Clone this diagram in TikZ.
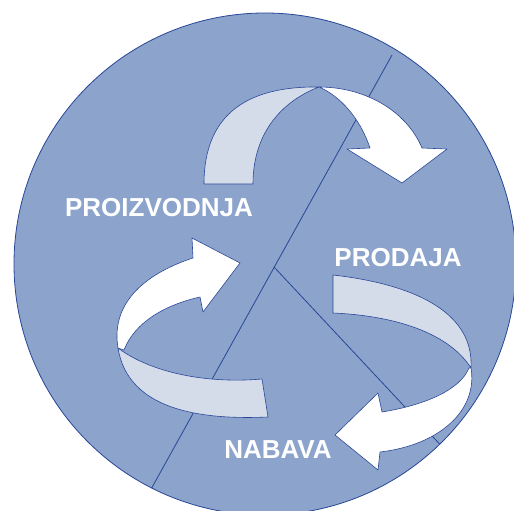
\documentclass[tikz,border=0pt]{standalone}
\usepackage{fontspec}
\setmainfont{Liberation Sans}
\definecolor{discfill}{RGB}{140,163,204}
\definecolor{ribbonback}{RGB}{212,220,234}
\definecolor{edgeblue}{RGB}{40,70,150}
\tikzset{
  edgeline/.style={draw=edgeblue, line width=0.8pt},
  backribbon/.style={fill=ribbonback, draw=edgeblue, line width=0.6pt, line join=round},
  frontribbon/.style={fill=white, draw=edgeblue, line width=0.6pt, line join=round},
  label/.style={text=white, font=\bfseries\fontsize{26}{31}\selectfont, inner sep=0pt},
}
\begin{document}
\begin{tikzpicture}[x=1pt, y=-1pt]
\useasboundingbox (0,0) rectangle (514,511);
\coordinate (C) at (265,264);
\fill[discfill] (C) circle (251);
% dividing lines
\coordinate (J) at (274,267);
\coordinate (T) at (392,55);
\coordinate (B) at (150,491);
\coordinate (R) at (448,453);
\begin{scope}
  \clip (C) circle (251);
  \draw[edgeline] (T) -- (B);
  \draw[edgeline] (J) -- (R);
\end{scope}
\draw[edgeline] (C) circle (251);
% top arrow
\draw[backribbon] (204,184) .. controls (204,112) and (250,86) .. (319,87)
  .. controls (285,100) and (253,130) .. (253,184) -- cycle;
\draw[frontribbon] (319,87) .. controls (364,87) and (406,110) .. (422,148)
  -- (447,149) -- (402,183) -- (347,149) -- (370,148)
  .. controls (360,118) and (340,96) .. (319,87) -- cycle;
% left arrow
\draw[backribbon] (118,348) .. controls (150,372) and (205,384) .. (262,379)
  -- (268,417) .. controls (200,420) and (128,410) .. (118,348) -- cycle;
\draw[frontribbon] (118,348) .. controls (110,300) and (150,272) .. (193,258)
  -- (192,238) -- (240,263) -- (203,312) -- (200,297)
  .. controls (165,305) and (135,322) .. (124,350) -- cycle;
% right arrow
\draw[backribbon] (333,275) .. controls (420,285) and (474,315) .. (471,368)
  .. controls (450,335) and (400,316) .. (333,313) -- cycle;
\draw[frontribbon] (471,368) .. controls (478,410) and (440,445) .. (380,452)
  -- (378,470) -- (335,435) -- (378,393) -- (382,412)
  .. controls (425,405) and (460,390) .. (469,368) -- cycle;
% labels
\node[label] (proizvodnja) at (159,208) {PROIZVODNJA};
\node[label] (prodaja) at (398,258) {PRODAJA};
\node[label] (nabava) at (278,450) {NABAVA};
\end{tikzpicture}
\end{document}
